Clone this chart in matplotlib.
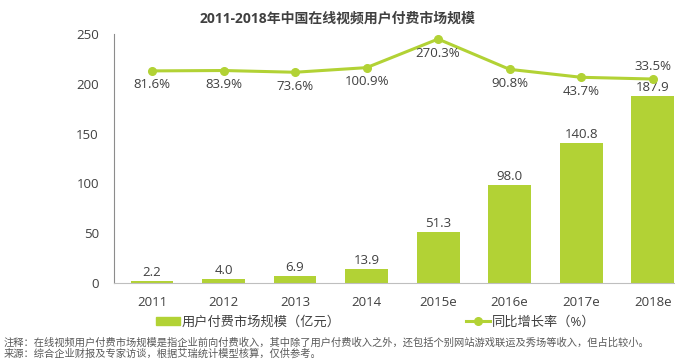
import matplotlib.pyplot as plt
from matplotlib.lines import Line2D
from matplotlib.patches import Patch

plt.rcParams['font.family'] = ['Open Sans', 'Noto Sans CJK SC', 'DejaVu Sans']

years = ['2011', '2012', '2013', '2014', '2015e', '2016e', '2017e', '2018e']
market = [2.2, 4.0, 6.9, 13.9, 51.3, 98.0, 140.8, 187.9]
growth = [81.6, 83.9, 73.6, 100.9, 270.3, 90.8, 43.7, 33.5]

green = '#b2d235'
txt = '#404040'

fig = plt.figure(figsize=(6.75, 3.64), dpi=100)
ax = fig.add_axes([0.169, 0.2225, 0.835, 0.684])
x = range(len(years))
ax.bar(x, market, width=0.6, color=green, zorder=2)
for i, v in enumerate(market):
    ax.text(i, v + 2, f'{v:.1f}', ha='center', va='bottom', fontsize=9.5, color=txt)

ax.set_ylim(0, 250)
ax.set_xlim(-0.53, 7.35)
ax.set_yticks([0, 50, 100, 150, 200, 250])
ax.set_xticks(list(x))
ax.set_xticklabels(years)
ax.tick_params(axis='both', length=0, labelsize=9.5, labelcolor=txt)
ax.tick_params(axis='y', pad=11)
ax.tick_params(axis='x', pad=9)
for s in ['top', 'right']:
    ax.spines[s].set_visible(False)
ax.spines['left'].set_color('#8c8c8c')
ax.spines['bottom'].set_color('#bfbfbf')

ax2 = ax.twinx()
ax2.plot(x, growth, color=green, lw=2.2, marker='o', markersize=5.5, zorder=3)
ax2.set_ylim(-1175, 300)
ax2.axis('off')
for i, v in enumerate(growth):
    if i == len(growth) - 1:
        ax2.text(i, v + 38, f'{v}%', ha='center', va='bottom', fontsize=9.5, color=txt)
    else:
        ax2.text(i, v - 45, f'{v}%', ha='center', va='top', fontsize=9.5, color=txt)

fig.text(0.5, 0.95, '2011-2018年中国在线视频用户付费市场规模', ha='center', va='center',
         fontsize=10, fontweight='bold', color=txt)

handles = [Patch(color=green),
           Line2D([0], [0], color=green, lw=2.2, marker='o', markersize=5.5)]
fig.legend(handles, ['用户付费市场规模（亿元）', '同比增长率（%）'], loc='center',
           bbox_to_anchor=(0.557, 0.115), ncol=2, frameon=False, fontsize=9.5,
           columnspacing=9.5, handlelength=1.8, handleheight=0.55, handletextpad=0.15,
           labelcolor=txt)

fig.text(0.005, 0.058, '注释：在线视频用户付费市场规模是指企业前向付费收入，其中除了用户付费收入之外，还包括个别网站游戏联运及秀场等收入，但占比较小。',
         fontsize=7.4, color='#595959', va='center')
fig.text(0.005, 0.027, '来源：综合企业财报及专家访谈，根据艾瑞统计模型核算，仅供参考。',
         fontsize=7.4, color='#595959', va='center')

fig.savefig('out.png', dpi=100)
